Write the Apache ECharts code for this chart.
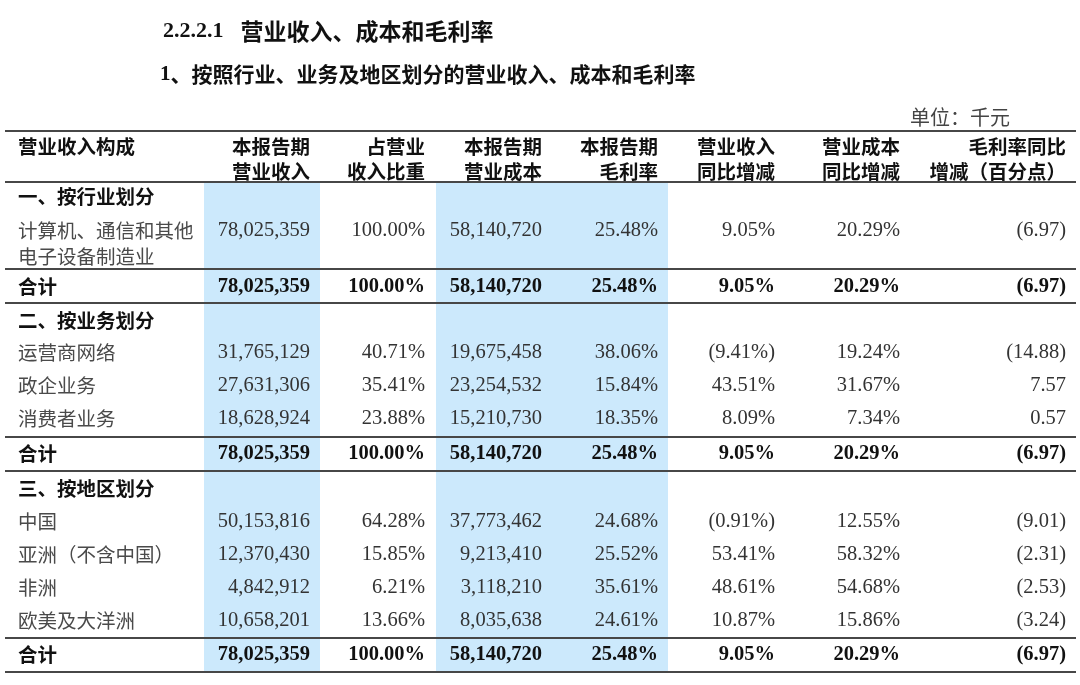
<!DOCTYPE html>
<html>
<head>
<meta charset="utf-8">
<title>营业收入、成本和毛利率</title>
<script src="https://cdn.jsdelivr.net/npm/echarts@6/dist/echarts.min.js"></script>
<style>
  html, body { margin: 0; padding: 0; background: #fff; }
  #main { width: 1080px; height: 685px; }
</style>
</head>
<body>
<div id="main"></div>
<script>
// 表头
var headers = [
  ['营业收入构成'],
  ['本报告期', '营业收入'],
  ['占营业', '收入比重'],
  ['本报告期', '营业成本'],
  ['本报告期', '毛利率'],
  ['营业收入', '同比增减'],
  ['营业成本', '同比增减'],
  ['毛利率同比', '增减（百分点）']
];

// 行（单位：千元）
var rowLabels = [
  '一、按行业划分', '计算机、通信和其他\n电子设备制造业', '合计',
  '二、按业务划分', '运营商网络', '政企业务', '消费者业务', '合计',
  '三、按地区划分', '中国', '亚洲（不含中国）', '非洲', '欧美及大洋洲', '合计'
];
var revenue = [null, 78025359, 78025359, null, 31765129, 27631306, 18628924, 78025359,
  null, 50153816, 12370430, 4842912, 10658201, 78025359];
var revenueShare = [null, 100.00, 100.00, null, 40.71, 35.41, 23.88, 100.00,
  null, 64.28, 15.85, 6.21, 13.66, 100.00];
var cost = [null, 58140720, 58140720, null, 19675458, 23254532, 15210730, 58140720,
  null, 37773462, 9213410, 3118210, 8035638, 58140720];
var grossMargin = [null, 25.48, 25.48, null, 38.06, 15.84, 18.35, 25.48,
  null, 24.68, 25.52, 35.61, 24.61, 25.48];
var revenueYoY = [null, 9.05, 9.05, null, -9.41, 43.51, 8.09, 9.05,
  null, -0.91, 53.41, 48.61, 10.87, 9.05];
var costYoY = [null, 20.29, 20.29, null, 19.24, 31.67, 7.34, 20.29,
  null, 12.55, 58.32, 54.68, 15.86, 20.29];
var marginChange = [null, -6.97, -6.97, null, -14.88, 7.57, 0.57, -6.97,
  null, -9.01, -2.31, -2.53, -3.24, -6.97];

// 版面
var colAnchor = [18, 310, 425, 542, 658, 775, 900, 1066];
var colBand = [null, [204, 320], null, [436, 552], [552, 668], null, null, null];
var shadedCols = [1, 3, 4];
var headerY = [147, 172];
var rowY = [197, 231, 287, 321, 353, 386, 419, 454, 489, 522, 555, 588, 621, 655];
var lineGap = 26;
var ruleY = [131, 182, 269, 303, 437, 471, 638, 672];
var tableLeft = 5, tableRight = 1076, bodyTop = 182, bodyBottom = 672;

var CJK = '"Noto Sans CJK SC", sans-serif';
var SERIF = '"Liberation Serif", "Times New Roman", serif';

function fmtInt(v) { return v.toLocaleString('en-US'); }
function fmtPct(v) { return v < 0 ? '(' + Math.abs(v).toFixed(2) + '%)' : v.toFixed(2) + '%'; }
function fmtPt(v) { return v < 0 ? '(' + Math.abs(v).toFixed(2) + ')' : v.toFixed(2); }

// 拼单元格
var cells = [];
headers.forEach(function (h, c) {
  h.forEach(function (t, k) {
    cells.push({ x: colAnchor[c], y: headerY[k], text: t, font: CJK, bold: true, align: c === 0 ? 'left' : 'right' });
  });
});
var valueCols = [
  [revenue, fmtInt], [revenueShare, fmtPct], [cost, fmtInt], [grossMargin, fmtPct],
  [revenueYoY, fmtPct], [costYoY, fmtPct], [marginChange, fmtPt]
];
rowLabels.forEach(function (label, r) {
  var strong = label === '合计' || /^[一二三]、/.test(label);
  label.split('\n').forEach(function (t, k) {
    cells.push({ x: colAnchor[0], y: rowY[r] + k * lineGap, text: t, font: CJK, bold: strong, align: 'left' });
  });
  valueCols.forEach(function (vc, i) {
    var v = vc[0][r];
    if (v === null) return;
    cells.push({ x: colAnchor[i + 1], y: rowY[r], text: vc[1](v), font: SERIF, bold: label === '合计', align: 'right' });
  });
});

var chart = echarts.init(document.getElementById('main'));
var option = {
  backgroundColor: '#fff',
  animation: false,
  title: [
    {
      text: '{n|2.2.2.1}{c|营业收入、成本和毛利率}',
      left: 163, top: 20, padding: 0,
      textStyle: { rich: {
        n: { fontFamily: SERIF, fontWeight: 'bold', fontSize: 22, color: '#111', padding: [0, 17, 0, 0] },
        c: { fontFamily: CJK, fontWeight: 'bold', fontSize: 23, color: '#111' }
      } }
    },
    {
      text: '{n|1}{c|、按照行业、业务及地区划分的营业收入、成本和毛利率}',
      left: 160, top: 64, padding: 0,
      textStyle: { rich: {
        n: { fontFamily: SERIF, fontWeight: 'bold', fontSize: 21, color: '#111' },
        c: { fontFamily: CJK, fontWeight: 'bold', fontSize: 21, color: '#111' }
      } }
    },
    {
      text: '单位：千元',
      right: 70, top: 107, padding: 0,
      textStyle: { fontFamily: CJK, fontWeight: 'normal', fontSize: 20, color: '#444' }
    }
  ],
  grid: { left: 0, right: 0, top: 0, bottom: 0 },
  xAxis: { type: 'value', min: 0, max: 1080, show: false },
  yAxis: { type: 'value', min: 0, max: 685, inverse: true, show: false },
  series: [
    {
      // 浅蓝底色列
      type: 'custom', silent: true, z: 1,
      data: shadedCols.map(function (c) { return [colBand[c][0], bodyTop, colBand[c][1], bodyBottom]; }),
      renderItem: function (params, api) {
        var p0 = api.coord([api.value(0), api.value(1)]);
        var p1 = api.coord([api.value(2), api.value(3)]);
        return { type: 'rect', shape: { x: p0[0], y: p0[1], width: p1[0] - p0[0], height: p1[1] - p0[1] },
          style: { fill: '#cce9fc' } };
      }
    },
    {
      // 横线
      type: 'custom', silent: true, z: 2,
      data: ruleY.map(function (y) { return [tableLeft, y, tableRight]; }),
      renderItem: function (params, api) {
        var p0 = api.coord([api.value(0), api.value(1)]);
        var p1 = api.coord([api.value(2), api.value(1)]);
        return { type: 'line', shape: { x1: p0[0], y1: p0[1], x2: p1[0], y2: p1[1] },
          style: { stroke: '#474747', lineWidth: 2 } };
      }
    },
    {
      // 文字
      type: 'custom', silent: true, z: 3,
      data: cells.map(function (c) { return [c.x, c.y]; }),
      renderItem: function (params, api) {
        var c = cells[params.dataIndex];
        var p = api.coord([api.value(0), api.value(1)]);
        var isCjk = c.font === CJK;
        return {
          type: 'text', x: p[0], y: p[1],
          style: {
            text: c.text,
            fontFamily: c.font,
            fontSize: isCjk ? 19.5 : 20.5,
            fontWeight: c.bold ? 'bold' : 'normal',
            fill: c.bold ? '#111' : (isCjk ? '#4a4a4a' : '#333'),
            align: c.align,
            verticalAlign: 'middle'
          }
        };
      }
    }
  ]
};
chart.setOption(option);
</script>
</body>
</html>
